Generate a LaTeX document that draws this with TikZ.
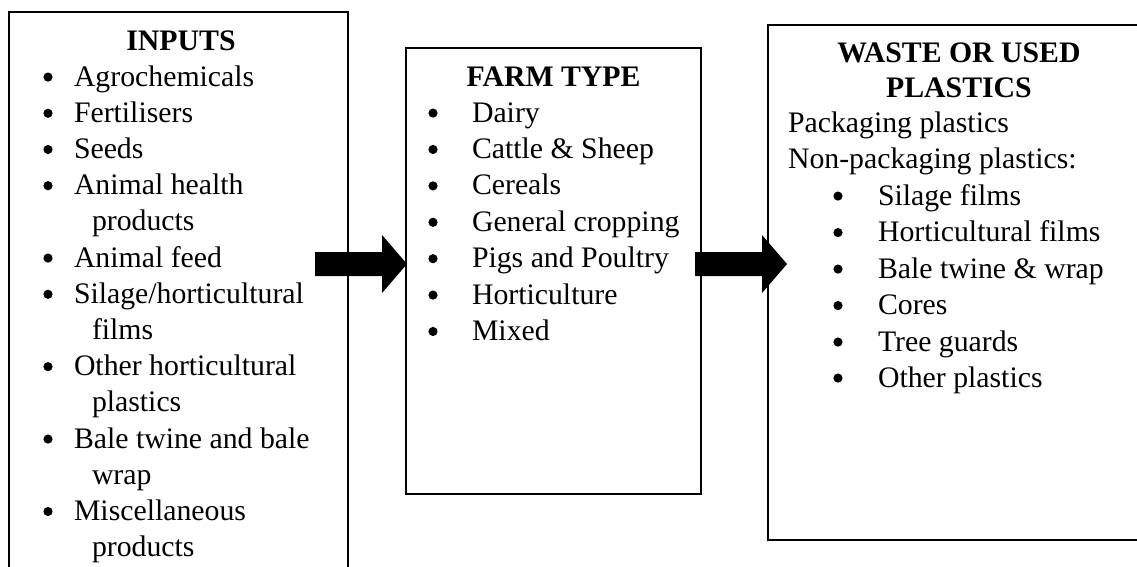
\documentclass[tikz,border=0pt]{standalone}
\usepackage{fontspec}
\setmainfont{Liberation Serif}
\usetikzlibrary{fit}
\begin{document}
\begin{tikzpicture}[x=0.403pt,y=-0.403pt,
  every node/.style={inner sep=0pt, outer sep=0pt},
  txt/.style={anchor=base west, font=\fontsize{12}{14}\selectfont},
  blt/.style={circle, fill=black, minimum size=3.7pt, yshift=3.6pt},
  hd/.style={anchor=base, font=\fontsize{12}{14}\selectfont\bfseries},
  frame/.style={draw, line width=0.8pt, rectangle, inner sep=0pt},
  blockarrow/.style={fill=black}]
\useasboundingbox (0,0) rectangle (1137,566);
\clip (0,0) rectangle (1137,566);
% boxes
\coordinate (inTL) at (9,12);   \coordinate (inBR) at (348,620);
\coordinate (fmTL) at (406,48); \coordinate (fmBR) at (701,494);
\coordinate (wsTL) at (768,25); \coordinate (wsBR) at (1160,540);
\node[frame, fit=(inTL)(inBR)] (inputs) {};
\node[frame, fit=(fmTL)(fmBR)] (farm) {};
\node[frame, fit=(wsTL)(wsBR)] (waste) {};
% block arrows
\fill[blockarrow] (315,252) -- (382,252) -- (382,235) -- (407,264) -- (382,293) -- (382,276) -- (315,276) -- cycle;
\fill[blockarrow] (695,252) -- (762,252) -- (762,235) -- (787,264) -- (762,293) -- (762,276) -- (695,276) -- cycle;
% INPUTS
\node[hd] (inhead) at (181,50) {INPUTS};
\node[blt] (ib1) at (48,86) {};   \node[txt] (it1) at (74,86) {Agrochemicals};
\node[blt] (ib2) at (48,122.2) {}; \node[txt] (it2) at (74,122.2) {Fertilisers};
\node[blt] (ib3) at (48,158.4) {}; \node[txt] (it3) at (74,158.4) {Seeds};
\node[blt] (ib4) at (48,194.6) {}; \node[txt] (it4) at (74,194.6) {Animal health};
\node[txt] (it5) at (92,230.8) {products};
\node[blt] (ib6) at (48,267) {};   \node[txt] (it6) at (74,267) {Animal feed};
\node[blt] (ib7) at (48,303.2) {}; \node[txt] (it7) at (74,303.2) {Silage/horticultural};
\node[txt] (it8) at (92,339.4) {films};
\node[blt] (ib9) at (48,375.6) {}; \node[txt] (it9) at (74,375.6) {Other horticultural};
\node[txt] (it10) at (92,411.8) {plastics};
\node[blt] (ib11) at (48,448) {}; \node[txt] (it11) at (74,448) {Bale twine and bale};
\node[txt] (it12) at (92,484.2) {wrap};
\node[blt] (ib13) at (48,520.4) {}; \node[txt] (it13) at (74,520.4) {Miscellaneous};
\node[txt] (it14) at (92,556.6) {products};
% FARM TYPE
\node[hd] (fmhead) at (553.5,86) {FARM TYPE};
\node[blt] (fb1) at (433,122) {};   \node[txt] (ft1) at (472,122) {Dairy};
\node[blt] (fb2) at (433,158.4) {}; \node[txt] (ft2) at (472,158.4) {Cattle \& Sheep};
\node[blt] (fb3) at (433,194.8) {}; \node[txt] (ft3) at (472,194.8) {Cereals};
\node[blt] (fb4) at (433,231.2) {}; \node[txt] (ft4) at (472,231.2) {General cropping};
\node[blt] (fb5) at (433,267.6) {}; \node[txt] (ft5) at (472,267.6) {Pigs and Poultry};
\node[blt] (fb6) at (433,304) {};   \node[txt] (ft6) at (472,304) {Horticulture};
\node[blt] (fb7) at (433,340.4) {}; \node[txt] (ft7) at (472,340.4) {Mixed};
% WASTE
\node[hd] (wshead1) at (959,62) {WASTE OR USED};
\node[hd] (wshead2) at (959,97) {PLASTICS};
\node[txt] (wp1) at (788,132) {Packaging plastics};
\node[txt] (wp2) at (788,168) {Non-packaging plastics:};
\node[blt] (wb1) at (838,205) {};   \node[txt] (wt1) at (878,205) {Silage films};
\node[blt] (wb2) at (838,241.5) {}; \node[txt] (wt2) at (878,241.5) {Horticultural films};
\node[blt] (wb3) at (838,278) {};   \node[txt] (wt3) at (878,278) {Bale twine \& wrap};
\node[blt] (wb4) at (838,314.5) {}; \node[txt] (wt4) at (878,314.5) {Cores};
\node[blt] (wb5) at (838,351) {};   \node[txt] (wt5) at (878,351) {Tree guards};
\node[blt] (wb6) at (838,387) {};   \node[txt] (wt6) at (878,387) {Other plastics};
\end{tikzpicture}
\end{document}
